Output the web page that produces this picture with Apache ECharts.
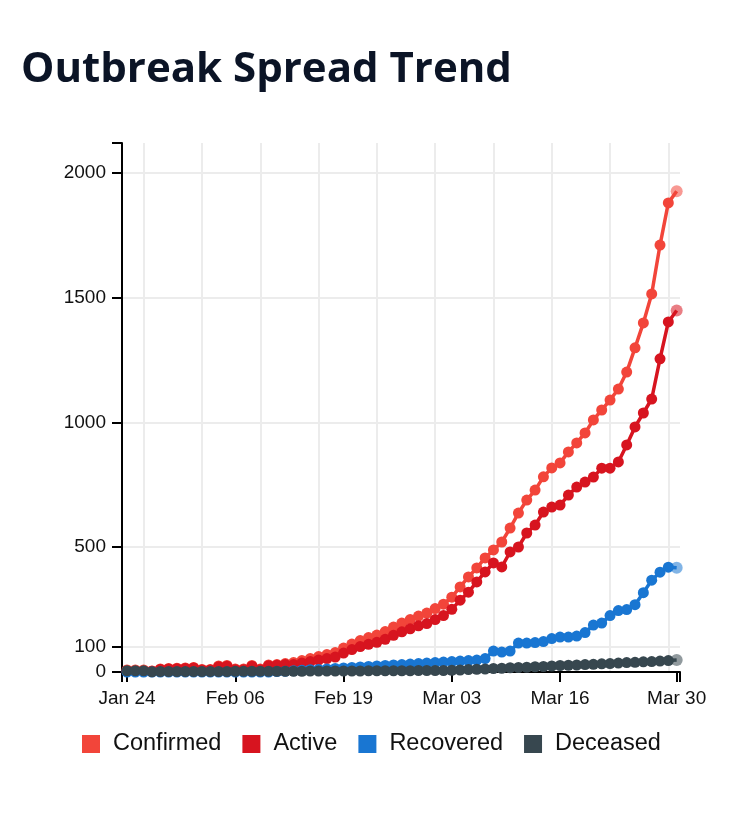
<!DOCTYPE html>
<html><head><meta charset="utf-8">
<script src="https://cdn.jsdelivr.net/npm/echarts@6/dist/echarts.min.js"></script>
<style>html,body{margin:0;padding:0;background:#fff}#chart{width:750px;height:814px}</style>
</head><body><div id="chart"></div>
<script>
const dates = ['Jan 24','Jan 25','Jan 26','Jan 27','Jan 28','Jan 29','Jan 30','Jan 31',
'Feb 01','Feb 02','Feb 03','Feb 04','Feb 05','Feb 06','Feb 07','Feb 08','Feb 09','Feb 10',
'Feb 11','Feb 12','Feb 13','Feb 14','Feb 15','Feb 16','Feb 17','Feb 18','Feb 19','Feb 20',
'Feb 21','Feb 22','Feb 23','Feb 24','Feb 25','Feb 26','Feb 27','Feb 28','Feb 29',
'Mar 01','Mar 02','Mar 03','Mar 04','Mar 05','Mar 06','Mar 07','Mar 08','Mar 09','Mar 10',
'Mar 11','Mar 12','Mar 13','Mar 14','Mar 15','Mar 16','Mar 17','Mar 18','Mar 19','Mar 20',
'Mar 21','Mar 22','Mar 23','Mar 24','Mar 25','Mar 26','Mar 27','Mar 28','Mar 29','Mar 30'];
const tickLabels = ['Jan 24','Feb 06','Feb 19','Mar 03','Mar 16','Mar 30'];
const gridDates = ['Jan 26','Feb 02','Feb 09','Feb 16','Feb 23','Mar 01','Mar 08','Mar 15','Mar 22','Mar 29'];
const yTicks = [0,100,500,1000,1500,2000];
const yGrid = [100,500,1000,1500,2000];

const confirmed = [8,8,8,4,12,14,15,16,18,10,
  10,24,26,12,12,26,12,28,30,34,
  38,46,54,62,70,78,96,112,126,138,
  148,162,180,196,210,224,236,254,272,300,
  341,381,417,457,489,521,577,637,689,729,
  782,818,838,882,918,958,1010,1050,1090,1134,
  1202,1299,1399,1515,1711,1880,1927];
const active = [3,3,3,3,10,12,13,14,16,8,
  8,21,23,9,9,23,9,25,27,30,
  30,36,42,48,54,60,76,90,102,111,
  119,131,147,161,173,185,194,210,226,251,
  288,320,361,401,437,421,481,501,557,589,
  641,661,669,709,741,761,781,817,817,842,
  910,982,1038,1094,1255,1403,1449];
const recovered = [0,0,0,0,0,0,0,0,0,0,
  0,0,0,0,0,0,0,0,2,3,
  5,7,9,10,12,14,16,18,20,22,
  24,26,28,30,32,34,36,38,40,42,
  44,46,48,54,84,80,84,116,116,118,
  122,134,140,140,144,158,188,196,226,246,
  250,270,318,368,400,420,418];
const deceased = [5,5,5,1,2,2,2,2,2,2,
  2,2,2,3,3,3,3,3,3,3,
  3,3,4,4,4,4,4,4,4,5,
  5,5,5,5,5,6,6,6,6,7,
  8,10,11,12,14,15,17,18,19,21,
  22,24,26,27,28,30,31,33,34,36,
  38,39,41,42,44,46,48];

const names = ['Confirmed','Active','Recovered','Deceased'];
const colors = ['#f2453a','#d7141f','#1976d2','#37474f'];
const seriesValues = [confirmed, active, recovered, deceased];

const xMin = -0.6, xMax = 66.4, yMax = 2120;
const tickIdx = tickLabels.map(d => dates.indexOf(d));
const gridIdx = gridDates.map(d => dates.indexOf(d));
const font = 'Liberation Sans, Arial, sans-serif';

const chart = echarts.init(document.getElementById('chart'), null, {renderer:'canvas'});
chart.setOption({
  animation:false,
  backgroundColor:'#fff',
  title:{text:'Outbreak Spread Trend', left:16, top:44,
    textStyle:{fontFamily:'Open Sans', fontWeight:'bold', fontSize:42, color:'#0b1426'}},
  legend:{data:names, icon:'rect', itemWidth:18, itemHeight:18, itemGap:21,
    left:77, top:727, selectedMode:false,
    textStyle:{fontFamily:font, fontSize:23.5, color:'#111', padding:[0,0,0,8]}},
  grid:{left:122, right:70, top:143, bottom:142, containLabel:false},
  xAxis:[
    {type:'value', min:xMin, max:xMax, position:'bottom',
      axisLine:{show:true, onZero:false, lineStyle:{color:'#000', width:2}},
      axisTick:{show:true, length:10, lineStyle:{color:'#000', width:2}, customValues:[xMin].concat(tickIdx,[xMax])},
      axisLabel:{show:true, customValues:tickIdx, formatter:v => dates[Math.round(v)],
        fontFamily:font, fontSize:19, color:'#111', margin:17},
      splitLine:{show:false}},
    {type:'value', min:xMin, max:xMax, position:'bottom',
      axisLine:{show:false}, axisTick:{show:false, customValues:gridIdx},
      axisLabel:{show:false, customValues:gridIdx},
      splitLine:{show:true, lineStyle:{color:'#ececec', width:2}}}
  ],
  yAxis:[
    {type:'value', min:0, max:yMax, position:'left',
      axisLine:{show:true, onZero:false, lineStyle:{color:'#000', width:2}},
      axisTick:{show:true, length:10, lineStyle:{color:'#000', width:2}, customValues:yTicks.concat([yMax])},
      axisLabel:{show:true, customValues:yTicks, formatter:v => String(v),
        fontFamily:font, fontSize:19, color:'#111', margin:16},
      splitLine:{show:false}},
    {type:'value', min:0, max:yMax, position:'left',
      axisLine:{show:false}, axisTick:{show:false, customValues:yGrid},
      axisLabel:{show:false, customValues:yGrid},
      splitLine:{show:true, lineStyle:{color:'#ececec', width:2}}}
  ],
  series: names.map((n, k) => ({
    name:n, type:'line', xAxisIndex:0, yAxisIndex:0,
    symbol:'circle', symbolSize:11, showSymbol:true,
    color:colors[k],
    lineStyle:{width:3.5, color:colors[k]},
    itemStyle:{color:colors[k], borderWidth:0},
    emphasis:{disabled:true},
    data: seriesValues[k].map((v, i) => i === seriesValues[k].length - 1
      ? {value:[i, v], itemStyle:{opacity:0.55}, symbolSize:12}
      : [i, v])
  }))
});
</script></body></html>
